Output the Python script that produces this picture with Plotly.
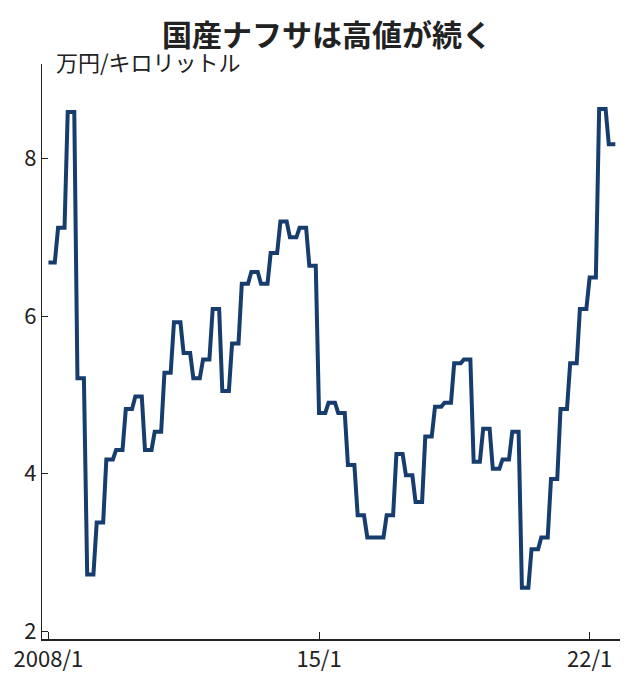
import plotly.graph_objects as go
import pandas as pd

quarter_starts = pd.date_range("2008-01-01", "2022-07-01", freq="QS")
quarter_values = [6.68, 7.12, 8.59, 5.21,
                  2.72, 3.38, 4.18, 4.30,
                  4.82, 4.98, 4.30, 4.53,
                  5.28, 5.92, 5.53, 5.21,
                  5.45, 6.09, 5.05, 5.65,
                  6.41, 6.56, 6.41, 6.80,
                  7.20, 7.00, 7.12, 6.64,
                  4.77, 4.90, 4.77, 4.11,
                  3.47, 3.19, 3.19, 3.47,
                  4.25, 3.98, 3.64, 4.47,
                  4.85, 4.90, 5.40, 5.45,
                  4.15, 4.57, 4.06, 4.18,
                  4.53, 2.55, 3.04, 3.19,
                  3.93, 4.82, 5.40, 6.09,
                  6.49, 8.63, 8.18]

dates, vals = [], []
for q, v in zip(quarter_starts, quarter_values):
    for m in range(3):
        dates.append(q + pd.DateOffset(months=m))
        vals.append(v)

tick_vals = ["2008-01-01", "2015-01-01", "2022-01-01"]
tick_text = ["2008/1", "15/1", "22/1"]

fig = go.Figure(go.Scatter(x=dates, y=vals, mode="lines",
                           line=dict(color="#173d6e", width=4)))
fig.update_layout(
    width=638, height=681, plot_bgcolor="white", paper_bgcolor="white",
    margin=dict(l=34, r=26, t=56, b=50), showlegend=False,
    font=dict(family="Noto Sans CJK JP", color="#222"),
    title=dict(text="<b>国産ナフサは高値が続く</b>", x=0.5, xanchor="center",
               y=0.96, yanchor="middle", font=dict(size=30, color="#222")),
    annotations=[dict(text="万円/キロリットル", xref="paper", yref="paper",
                      x=0.02, y=1.005, xanchor="left", yanchor="middle",
                      showarrow=False, font=dict(size=22, color="#222"))],
)
fig.update_xaxes(range=["2007-11-01", "2022-10-15"], tickvals=tick_vals, ticktext=tick_text,
                 ticks="inside", ticklen=7, tickcolor="#222", showline=True, linecolor="#222",
                 linewidth=1.5, showgrid=False, automargin=False,
                 tickfont=dict(size=22, family="Noto Sans CJK JP"))
fig.update_yaxes(range=[1.9, 9.2], tickvals=[2, 4, 6, 8], ticks="inside", ticklen=6,
                 tickcolor="#222", showline=True, linecolor="#222", linewidth=1.2,
                 showgrid=False, zeroline=False, automargin=False,
                 tickfont=dict(size=22, family="Noto Sans CJK JP"))
fig.write_html("out.html")
